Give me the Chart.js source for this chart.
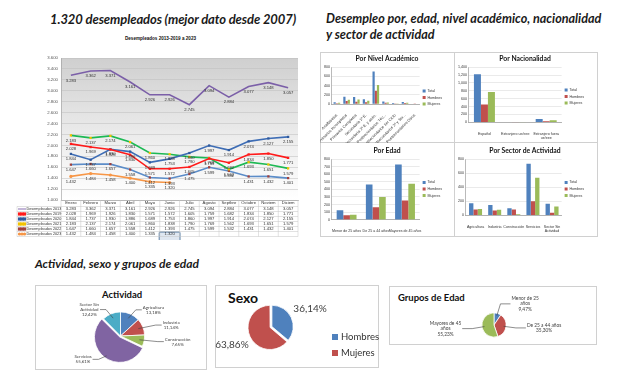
<!DOCTYPE html>
<html>
<head>
<meta charset="utf-8">
<script src="https://cdn.jsdelivr.net/npm/chart.js@4.4.1/dist/chart.umd.min.js"></script>
<style>
  body { margin: 0; width: 627px; height: 376px; position: relative; overflow: hidden; background: #fff; font-family: Lato, sans-serif; }
  .head { position: absolute; font-family: Lato, sans-serif; font-weight: bold; font-style: italic; color: #1a1a1a; white-space: nowrap; }
  .box { position: absolute; border: 1px solid #d0d0d0; box-sizing: border-box; background: #fff; }
  .ptitle { position: absolute; font-family: Lato, sans-serif; font-weight: bold; color: #111; white-space: nowrap; }
  canvas { position: absolute; }
  .leg { position: absolute; font-family: Lato, sans-serif; font-size: 9.5px; color: #333; line-height: 16px; }
  .leg span.sq { display: inline-block; width: 6px; height: 6px; margin-right: 3px; }
</style>
</head>
<body>

<div class="head" style="left:50px; top:11px; font-size:13px; letter-spacing:-0.1px;">1.320 desempleados (mejor dato desde 2007)</div>
<div class="ptitle" style="left:125px; top:36px; font: bold 4.6px 'Liberation Sans';">Desempleados 2013-2019 a 2023</div>
<canvas id="paroChart" width="305" height="195" style="left:5px; top:45px;"></canvas>

<div class="head" style="left:326px; top:11px; font-size:12.6px; line-height:16px;">Desempleo por, edad, nivel académico, nacionalidad<br>y sector de actividad</div>

<div class="box" style="left:320px; top:52px; width:135px; height:91px;"></div>
<div class="box" style="left:454px; top:52px; width:144px; height:91px;"></div>
<div class="box" style="left:320px; top:142px; width:135px; height:95px;"></div>
<div class="box" style="left:454px; top:142px; width:144px; height:95px;"></div>
<canvas id="nivelChart" width="135" height="91" style="left:320px; top:52px;"></canvas>
<canvas id="nacionChart" width="144" height="91" style="left:454px; top:52px;"></canvas>
<canvas id="edadChart" width="135" height="95" style="left:320px; top:142px;"></canvas>
<canvas id="sectorChart" width="144" height="95" style="left:454px; top:142px;"></canvas>

<div class="head" style="left:35px; top:256px; font-size:12px;">Actividad, sexo y grupos de edad</div>

<div class="box" style="left:35px; top:285px; width:172px; height:85px;"></div>
<div class="ptitle" style="left:102px; top:289px; font-size:9.5px;">Actividad</div>
<canvas id="actividadChart" width="172" height="85" style="left:35px; top:285px;"></canvas>

<div class="box" style="left:215px; top:285px; width:164px; height:83px;"></div>
<div class="ptitle" style="left:228px; top:289px; font-size:14px;">Sexo</div>
<canvas id="sexoChart" width="164" height="83" style="left:215px; top:285px;"></canvas>
<div class="leg" id="sexoLegend" style="left:332px; top:329px;"></div>

<div class="box" style="left:389px; top:286px; width:208px; height:59px;"></div>
<div class="ptitle" style="left:398px; top:292px; font-size:9.5px;">Grupos de Edad</div>
<canvas id="gruposChart" width="208" height="59" style="left:389px; top:286px;"></canvas>

<script>
// paro registrado por mes
var meses = ["Enero", "Febrero", "Marzo", "Abril", "Mayo", "Junio", "Julio", "Agosto", "Septbre", "Octubre", "Noviem", "Diciem"];
var paro2013 = [3283, 3362, 3371, 3161, 2926, 2926, 2745, 3094, 2884, 3077, 3148, 3057];
var paro2019 = [2028, 1969, 1926, 1830, 1571, 1572, 1605, 1759, 1682, 1834, 1850, 1771];
var paro2020 = [1844, 1737, 1930, 1886, 1689, 1753, 1860, 1997, 1914, 2074, 2127, 2155];
var paro2021 = [2183, 2137, 2174, 2061, 1860, 1838, 1790, 1769, 1562, 1693, 1651, 1579];
var paro2022 = [1647, 1660, 1657, 1558, 1412, 1393, 1475, 1599, 1532, 1431, 1432, 1401];
var paro2023 = [1432, 1484, 1458, 1400, 1335, 1320, null, null, null, null, null, null];

// barras
var serieNombres = ["Total", "Hombres", "Mujeres"];
var nivelLabels = ["Analfabetos", "Primarios Incompletos", "Primarios Completos", "Secundaria 1ª E.", "Secundaria 2ª E. y asim.", "Postsecundarios Téc...", "Postsecundarios 1er Ciclo", "Postsecundarios 2º y 3er...", "Postsecundarios Otros"];
var nivelTotal = [40, 160, 150, 105, 705, 55, 20, 45, 5];
var nivelHombres = [15, 65, 50, 40, 290, 25, 10, 20, 2];
var nivelMujeres = [25, 95, 100, 70, 410, 30, 10, 25, 3];

var nacionLabels = ["Español", "Extranjero ue/eee", ["Extranjero fuera", "ue/eee"]];
var nacionTotal = [1220, 8, 85];
var nacionHombres = [450, 3, 30];
var nacionMujeres = [770, 5, 55];

var edadLabels = ["Menor de 25 años", "De 25 a 44 años", "Mayores de 45 años"];
var edadTotal = [125, 466, 729];
var edadHombres = [60, 165, 255];
var edadMujeres = [65, 300, 474];

var sectorLabels = ["Agricultura", "Industria", "Construcción", "Servicios", ["Sector Sin", "Actividad"]];
var sectorTotal = [174, 147, 101, 734, 164];
var sectorHombres = [82, 68, 85, 200, 38];
var sectorMujeres = [92, 79, 16, 534, 126];

// tartas (%)
var actividadLabels = ["Agricultura", "Industria", "Construcción", "Servicios", ["Sector Sin", "Actividad"]];
var actividadPct = [13.18, 11.14, 7.65, 55.61, 12.42];
var sexoLabels = ["Hombres", "Mujeres"];
var sexoPct = [36.14, 63.86];
var gruposLabels = [["Menor de 25", "años"], "De 25 a 44 años", ["Mayores de 45", "años"]];
var gruposPct = [9.47, 35.30, 55.23];

var azul = "#4F81BD", rojo = "#C0504D", verde = "#9BBB59", morado = "#8064A2", turquesa = "#4BACC6";

function miles(n) {
  return String(n).replace(/\B(?=(\d{3})+(?!\d))/g, ".");
}
function pct(n) {
  return n.toFixed(2).replace(".", ",") + "%";
}

// fondo gris degradado del area del grafico
var fondoPlugin = {
  id: "fondo",
  beforeDraw: function (chart) {
    var a = chart.chartArea, ctx = chart.ctx;
    var g = ctx.createLinearGradient(0, a.top, 0, a.bottom);
    g.addColorStop(0, "#cfcfcf");
    g.addColorStop(0.55, "#ececec");
    g.addColorStop(1, "#ffffff");
    ctx.save();
    ctx.fillStyle = g;
    ctx.fillRect(a.left, a.top, a.right - a.left, a.bottom - a.top);
    ctx.restore();
  }
};

// etiquetas con el valor de cada punto
var valoresPlugin = {
  id: "valores",
  afterDatasetsDraw: function (chart) {
    var ctx = chart.ctx;
    ctx.save();
    ctx.font = "4.2px 'Liberation Sans'";
    ctx.fillStyle = "#333";
    ctx.textAlign = "center";
    ctx.textBaseline = "top";
    chart.data.datasets.forEach(function (ds, di) {
      var meta = chart.getDatasetMeta(di);
      meta.data.forEach(function (pt, i) {
        if (ds.data[i] == null) return;
        ctx.fillText(miles(ds.data[i]), pt.x, pt.y + 3);
      });
    });
    ctx.restore();
  }
};

function dibujaMarca(ctx, ds, x, y) {
  var r = ds.pointRadius || 0;
  if (!r) return;
  ctx.fillStyle = ds.pointBackgroundColor;
  if (ds.pointStyle === "rect") ctx.fillRect(x - r, y - r, 2 * r, 2 * r);
  else { ctx.beginPath(); ctx.arc(x, y, r, 0, Math.PI * 2); ctx.fill(); }
}

// tabla de datos bajo el eje x
var tablaPlugin = {
  id: "tabla",
  afterDraw: function (chart) {
    var ctx = chart.ctx;
    var a = chart.chartArea;
    var xs = chart.scales.x;
    var series = chart.data.datasets;
    var colW = (a.right - a.left) / meses.length;
    var izq = 12, top = a.bottom, headH = 6.5, rowH = 5;
    var bottom = top + headH + rowH * series.length;
    ctx.save();

    // celda destacada (ultimo dato)
    var ult = series[series.length - 1];
    var li = ult.data.filter(function (v) { return v != null; }).length - 1;
    var cx = xs.getPixelForValue(li);
    var cy = top + headH + rowH * (series.length - 1) + rowH / 2 + 2.5;
    ctx.fillStyle = "#dfe7f1";
    ctx.strokeStyle = "#7f9bb8";
    ctx.lineWidth = 1.3;
    ctx.beginPath();
    ctx.roundRect(cx - colW / 2 - 0.5, cy - 4.5, colW + 1, 9, 1.2);
    ctx.fill();
    ctx.stroke();

    ctx.strokeStyle = "#c4c4c4";
    ctx.lineWidth = 0.5;
    ctx.beginPath();
    for (var r = 0; r <= series.length; r++) {
      var y = top + headH + r * rowH;
      ctx.moveTo(izq, y);
      ctx.lineTo(a.right, y);
    }
    for (var c = 0; c <= meses.length; c++) {
      var x = a.left + c * colW;
      ctx.moveTo(x, top);
      ctx.lineTo(x, bottom);
    }
    ctx.moveTo(izq, top + headH);
    ctx.lineTo(izq, bottom);
    ctx.stroke();

    ctx.font = "4.2px 'Liberation Sans'";
    ctx.textBaseline = "middle";
    ctx.fillStyle = "#333";
    ctx.textAlign = "center";
    meses.forEach(function (m, i) {
      ctx.fillText(m, xs.getPixelForValue(i), top + headH / 2);
    });
    series.forEach(function (ds, r) {
      var yc = top + headH + r * rowH + rowH / 2;
      ctx.strokeStyle = ds.borderColor;
      ctx.lineWidth = 0.9;
      ctx.beginPath();
      ctx.moveTo(izq + 1, yc);
      ctx.lineTo(izq + 9, yc);
      ctx.stroke();
      [izq + 2.5, izq + 5, izq + 7.5].forEach(function (mx) { dibujaMarca(ctx, ds, mx, yc); });
      ctx.fillStyle = "#333";
      ctx.textAlign = "left";
      ctx.font = "3.8px 'Liberation Sans'";
      ctx.fillText(ds.label, izq + 9.5, yc);
      ctx.font = "4.2px 'Liberation Sans'";
      ctx.textAlign = "center";
      ds.data.forEach(function (v, i) {
        if (v == null) return;
        ctx.fillText(miles(v), xs.getPixelForValue(i), yc);
      });
    });
    ctx.restore();
  }
};

function serie(label, data, color, marca, estilo) {
  return {
    label: label,
    data: data,
    borderColor: color,
    backgroundColor: color,
    borderWidth: 1.6,
    pointRadius: marca ? 1.6 : 0,
    pointStyle: estilo || "rect",
    pointBackgroundColor: marca,
    pointBorderColor: marca,
    pointBorderWidth: 0,
    tension: 0,
    spanGaps: false
  };
}

function displayParoChart() {
  var ctx = document.getElementById("paroChart");
  new Chart(ctx, {
    type: "line",
    data: {
      labels: meses,
      datasets: [
        serie("Desempleados 2013", paro2013, "#7B5FA8", null),
        serie("Desempleados 2019", paro2019, "#FF1A1A", "#FF1A1A"),
        serie("Desempleados 2020", paro2020, "#3E6DB5", "#2F5A9E"),
        serie("Desempleados 2021", paro2021, "#1DB954", "#F2C200"),
        serie("Desempleados 2022", paro2022, "#5B8CC8", "#A0403D"),
        serie("Desempleados 2023", paro2023, "#F79646", "#F79646", "circle")
      ]
    },
    options: {
      responsive: false,
      animation: false,
      layout: { padding: { left: 42, right: 12, top: 13, bottom: 40 } },
      plugins: { legend: { display: false }, tooltip: { enabled: false } },
      scales: {
        x: {
          offset: true,
          grid: { display: false, drawTicks: false },
          border: { color: "#9a9a9a", width: 0.6 },
          ticks: { display: false, padding: 0 }
        },
        y: {
          min: 1000,
          max: 3600,
          afterFit: function (scale) { scale.width = 14; },
          ticks: {
            stepSize: 200,
            padding: 3,
            color: "#555",
            font: { family: "Liberation Sans", size: 4.3 },
            callback: function (v) { return miles(v); }
          },
          grid: { color: "#bcbcbc", lineWidth: 0.5, drawTicks: false },
          border: { color: "#9a9a9a", width: 0.6 }
        }
      }
    },
    plugins: [fondoPlugin, valoresPlugin, tablaPlugin]
  });
}

function displayBarChart(id, titulo, labels, total, hombres, mujeres, yMax, yStep, rotacion, alturaX, padding) {
  var ctx = document.getElementById(id);
  var valores = [total, hombres, mujeres];
  var colores = [azul, rojo, verde];
  new Chart(ctx, {
    type: "bar",
    data: {
      labels: labels,
      datasets: serieNombres.map(function (n, i) {
        return {
          label: n,
          data: valores[i],
          backgroundColor: colores[i],
          categoryPercentage: 0.68,
          barPercentage: 1
        };
      })
    },
    options: {
      responsive: false,
      animation: false,
      layout: { padding: padding },
      plugins: {
        title: {
          display: true,
          text: titulo,
          color: "#111",
          font: { family: "Lato", size: 6.8, weight: "bold" },
          padding: { top: 3, bottom: 4 }
        },
        legend: {
          position: "right",
          labels: {
            color: "#333",
            font: { family: "Liberation Sans", size: 3.6 },
            boxWidth: 3,
            boxHeight: 3,
            padding: 3
          }
        },
        tooltip: { enabled: false }
      },
      scales: {
        x: {
          afterFit: function (scale) { if (alturaX) scale.height = alturaX; },
          grid: { display: false },
          border: { color: "#8c8c8c", width: 0.6 },
          ticks: {
            autoSkip: false,
            maxRotation: rotacion,
            minRotation: rotacion,
            padding: 1,
            color: "#333",
            font: { family: "Liberation Sans", size: rotacion ? 3.9 : 3.6 }
          }
        },
        y: {
          min: 0,
          max: yMax,
          ticks: {
            stepSize: yStep,
            padding: 2,
            color: "#333",
            font: { family: "Liberation Sans", size: 3.6 },
            callback: function (v) { return v.toLocaleString("en-US"); }
          },
          grid: { color: "#d4d4d4", lineWidth: 0.5, drawTicks: false },
          border: { color: "#8c8c8c", width: 0.6 }
        }
      }
    }
  });
}

// etiquetas exteriores de las tartas
var etiquetasPlugin = {
  id: "etiquetas",
  afterDraw: function (chart, args, opts) {
    var ctx = chart.ctx;
    var arcs = chart.getDatasetMeta(0).data;
    var ds = chart.data.datasets[0];
    ctx.save();
    ctx.font = opts.font;
    ctx.fillStyle = "#404040";
    ctx.strokeStyle = "#404040";
    ctx.lineWidth = 0.6;
    ctx.textBaseline = "middle";
    ctx.textAlign = "center";
    arcs.forEach(function (arc, i) {
      var p = arc.getProps(["x", "y", "startAngle", "endAngle", "outerRadius"]);
      var mid = (p.startAngle + p.endAngle) / 2;
      var cos = Math.cos(mid), sin = Math.sin(mid);
      var off = (Array.isArray(ds.offset) ? ds.offset[i] : ds.offset) || 0;
      var r = p.outerRadius;
      var lineas = [];
      if (opts.nombres) lineas = lineas.concat(chart.data.labels[i]);
      lineas.push(pct(ds.data[i]));
      var w = Math.max.apply(null, lineas.map(function (t) { return ctx.measureText(t).width; }));
      var x2 = p.x + cos * (r + opts.ext);
      var y2 = p.y + sin * (r + opts.ext) * opts.ky;
      var tx = x2, ty = y2;
      if (opts.guia) {
        var lado = cos >= 0 ? 1 : -1;
        var x3 = x2 + lado * opts.arm;
        ctx.beginPath();
        ctx.moveTo(p.x + cos * (off + r * 0.8), p.y + sin * (off + r * 0.8));
        ctx.lineTo(x2, y2);
        ctx.lineTo(x3, y2);
        ctx.stroke();
        tx = x3 + lado * (w / 2 + 1);
      }
      var h = opts.lineH;
      lineas.forEach(function (t, k) {
        ctx.fillText(t, tx, ty + (k - (lineas.length - 1) / 2) * h);
      });
    });
    ctx.restore();
  }
};

function displayPieChart(id, labels, values, colores, offsets, padding, etiquetas) {
  var ctx = document.getElementById(id);
  new Chart(ctx, {
    type: "pie",
    data: {
      labels: labels,
      datasets: [{
        data: values,
        backgroundColor: colores,
        borderColor: "#ffffff",
        borderWidth: 0.8,
        offset: offsets
      }]
    },
    options: {
      responsive: false,
      animation: false,
      layout: { padding: padding },
      plugins: {
        legend: { display: false },
        tooltip: { enabled: false },
        etiquetas: etiquetas
      }
    },
    plugins: [etiquetasPlugin]
  });
}

displayParoChart();

displayBarChart("nivelChart", "Por Nivel Académico", nivelLabels, nivelTotal, nivelHombres, nivelMujeres, 800, 100, 45, 39, { left: 2, right: 3, top: 0, bottom: 0 });
displayBarChart("nacionChart", "Por Nacionalidad", nacionLabels, nacionTotal, nacionHombres, nacionMujeres, 1400, 200, 0, 0, { left: 2, right: 4, top: 0, bottom: 2 });
displayBarChart("edadChart", "Por Edad", edadLabels, edadTotal, edadHombres, edadMujeres, 800, 100, 0, 0, { left: 2, right: 3, top: 2, bottom: 3 });
displayBarChart("sectorChart", "Por Sector de Actividad", sectorLabels, sectorTotal, sectorHombres, sectorMujeres, 800, 100, 0, 0, { left: 2, right: 4, top: 2, bottom: 3 });

displayPieChart("actividadChart", actividadLabels, actividadPct, [azul, rojo, verde, morado, turquesa], [0, 0, 0, 5, 0],
  { left: 58.5, right: 59.5, top: 24, bottom: 7 },
  { font: "4.4px Lato", lineH: 5, ext: 14, ky: 0.75, arm: 6, guia: true, nombres: true });
displayPieChart("sexoChart", sexoLabels, sexoPct, [azul, rojo], [4, 4],
  { left: 32.5, right: 84.5, top: 18.5, bottom: 17.5 },
  { font: "10px Lato", lineH: 10, ext: 22, ky: 1, arm: 0, guia: false, nombres: false });
displayPieChart("gruposChart", gruposLabels, gruposPct, [azul, rojo, verde], [0, 0, 0],
  { left: 92.5, right: 90.5, top: 26.5, bottom: 7.5 },
  { font: "4.8px Lato", lineH: 5.5, ext: 10, ky: 1, arm: 10, guia: true, nombres: true });

// leyenda de sexo
var leyenda = document.getElementById("sexoLegend");
leyenda.innerHTML = sexoLabels.map(function (n, i) {
  return '<div><span class="sq" style="background:' + [azul, rojo][i] + '"></span>' + n + '</div>';
}).join("");
</script>
</body>
</html>
